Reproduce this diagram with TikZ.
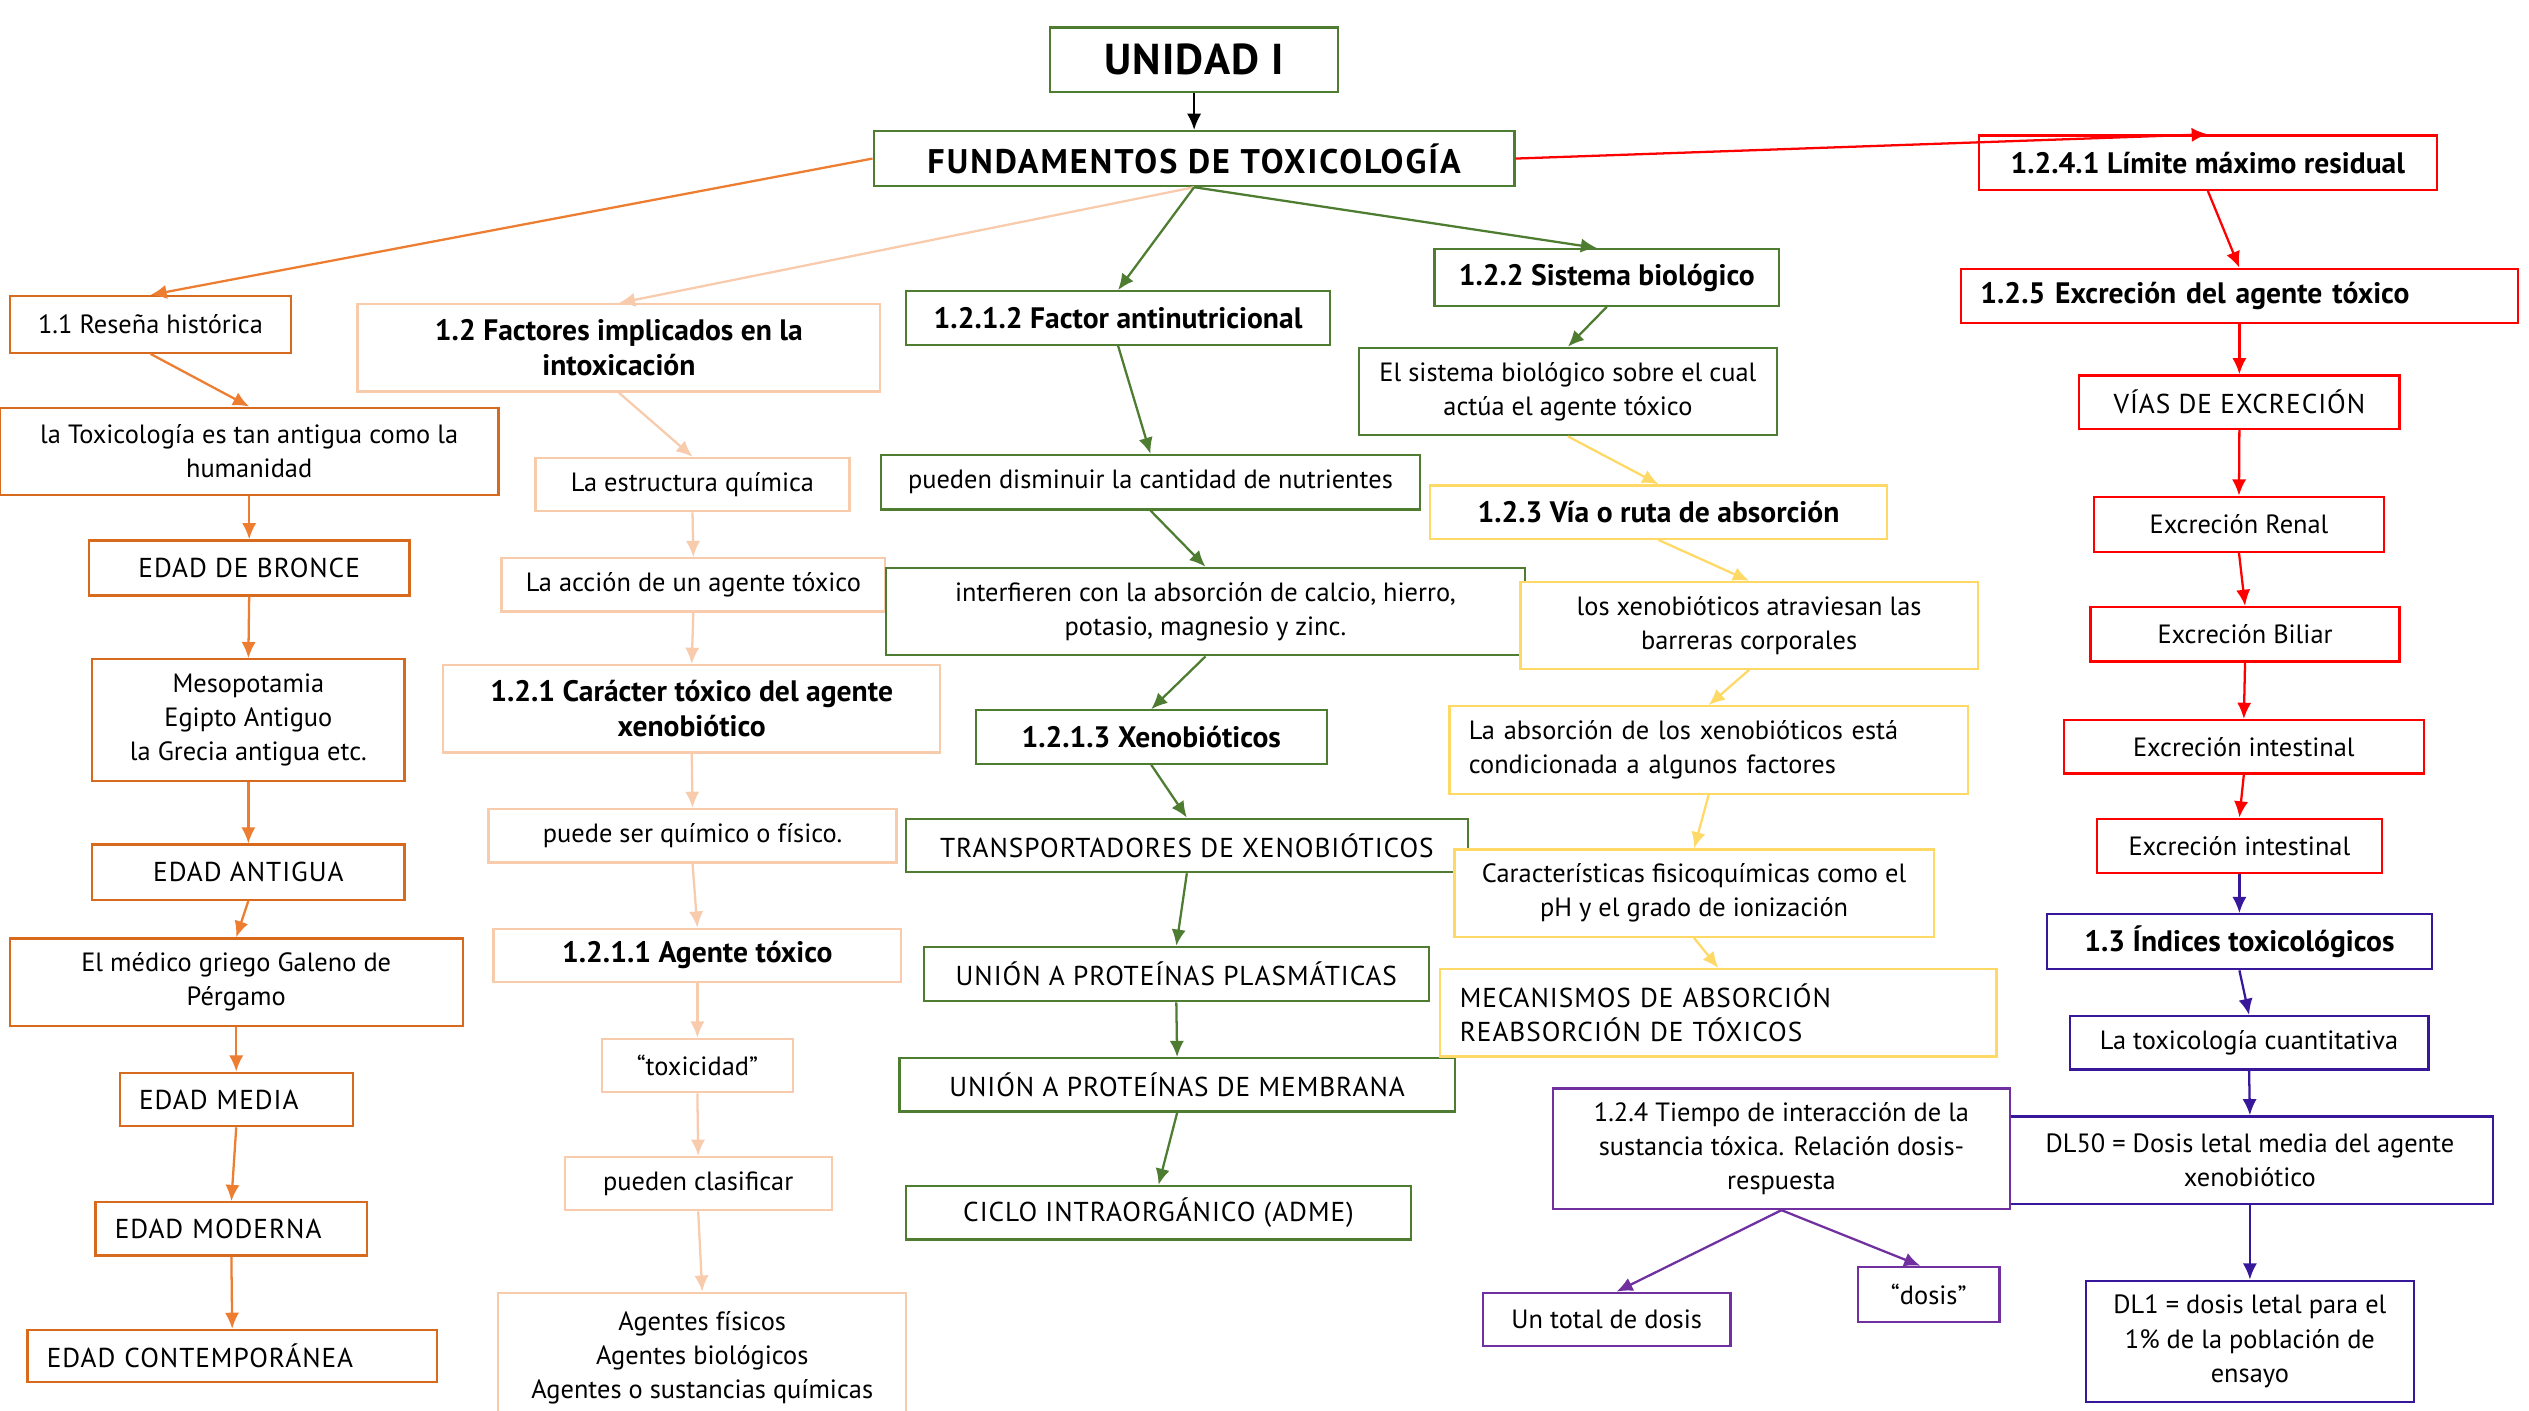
\documentclass[tikz,border=0pt]{standalone}
\usepackage{fontspec}
\setmainfont{PT Sans}
\usepackage{xcolor}
\usepackage{tikz}
\usetikzlibrary{arrows.meta}

\definecolor{naranja}{HTML}{ED7D31}
\definecolor{naranjaosc}{HTML}{D86A1E}
\definecolor{durazno}{HTML}{F8CBAD}
\definecolor{verde}{HTML}{4E7D32}
\definecolor{amarillo}{HTML}{FFD966}
\definecolor{rojo}{HTML}{FF0000}
\definecolor{indigo}{HTML}{38189A}
\definecolor{violeta}{HTML}{7030A0}

\newcommand{\txt}{\fontsize{11.6}{15}\selectfont}
\newcommand{\txtn}{\fontsize{13}{15.5}\selectfont\bfseries}
\newcommand{\mayus}{\fontsize{12}{15}\selectfont\addfontfeatures{LetterSpace=3.5}}

\tikzset{
  caja/.style={draw, line width=1pt, align=center, inner sep=2pt, font=\txt, fill=white},
  wh/.style 2 args={minimum width=#1cm, minimum height=#2cm},
  izq/.style={align=left, inner xsep=0.3cm, text width=#1cm},
  negrita/.style={font=\txtn},
  caps/.style={font=\mayus},
  obox/.style={caja, draw=naranjaosc},
  pbox/.style={caja, draw=durazno},
  gbox/.style={caja, draw=verde},
  ybox/.style={caja, draw=amarillo},
  rbox/.style={caja, draw=rojo},
  ibox/.style={caja, draw=indigo},
  vbox/.style={caja, draw=violeta},
  flecha/.style={-{Latex[length=0.25cm, width=0.22cm]}, line width=1pt}
}

\begin{document}
\begin{tikzpicture}[x=0.025cm, y=-0.025cm]
\useasboundingbox (0,0) rectangle (1563,872);

% titulo
\node[gbox, wh={4.45}{1.0}, font=\fontsize{19}{22}\selectfont\bfseries\addfontfeatures{LetterSpace=3}] (unidad) at (738,37) {UNIDAD I};
\node[gbox, wh={9.9}{0.85}, font=\fontsize{15}{17}\selectfont\bfseries\addfontfeatures{LetterSpace=6}] (fund) at (738,98) {FUNDAMENTOS DE TOXICOLOGÍA};

% rama naranja
\node[obox, wh={4.35}{0.875}] (resena) at (93,200.5) {1.1 Reseña histórica};
\node[obox, wh={7.7}{1.35}] (antigua) at (154,279) {la Toxicología es tan antigua como la\\humanidad};
\node[obox, caps, wh={4.95}{0.85}] (bronce) at (154,351) {EDAD DE BRONCE};
\node[obox, wh={4.825}{1.875}] (meso) at (153.5,445) {Mesopotamia\\Egipto Antiguo\\la Grecia antigua etc.};
\node[obox, caps, wh={4.825}{0.85}] (edadant) at (153.5,539) {EDAD ANTIGUA};
\node[obox, wh={7.0}{1.35}] (galeno) at (146,607) {El médico griego Galeno de\\Pérgamo};
\node[obox, caps, minimum height=0.825cm, izq={3.0}] (media) at (146,679.5) {EDAD MEDIA};
\node[obox, caps, minimum height=0.825cm, izq={3.6}] (moderna) at (143,759.5) {EDAD MODERNA};
\node[obox, caps, minimum height=0.8cm, izq={5.725}] (contemp) at (143.5,838) {EDAD CONTEMPORÁNEA};

% rama durazno
\node[pbox, negrita, wh={8.075}{1.35}] (factores) at (382.5,215) {1.2 Factores implicados en la\\intoxicación};
\node[pbox, wh={4.85}{0.825}] (estructura) at (428,299.5) {La estructura química};
\node[pbox, wh={5.925}{0.825}] (accion) at (428.5,361.5) {La acción de un agente tóxico};
\node[pbox, negrita, wh={7.675}{1.35}] (caracter) at (427.5,438) {1.2.1 Carácter tóxico del agente\\xenobiótico};
\node[pbox, wh={6.3}{0.825}] (puede) at (428,516.5) {puede ser químico o físico.};
\node[pbox, negrita, wh={6.3}{0.825}] (agente) at (431,590.5) {1.2.1.1 Agente tóxico};
\node[pbox, wh={2.95}{0.825}] (toxicidad) at (431,658.5) {“toxicidad”};
\node[pbox, wh={4.125}{0.825}] (clasificar) at (431.5,731.5) {pueden clasificar};
\node[pbox, wh={6.3}{2.0}] (agentes) at (434,839) {Agentes físicos\\Agentes biológicos\\Agentes o sustancias químicas};

% rama verde
\node[gbox, negrita, wh={6.55}{0.825}] (antinut) at (691,196.5) {1.2.1.2 Factor antinutricional};
\node[gbox, wh={8.325}{0.84}] (disminuir) at (711,298) {pueden disminuir la cantidad de nutrientes};
\node[gbox, wh={9.875}{1.35}] (interfieren) at (745,378) {interfieren con la absorción de calcio, hierro,\\potasio, magnesio y zinc.};
\node[gbox, negrita, wh={5.425}{0.825}] (xeno) at (711.5,455.5) {1.2.1.3 Xenobióticos};
\node[gbox, caps, wh={8.675}{0.825}] (transp) at (733.5,522.5) {TRANSPORTADORES DE XENOBIÓTICOS};
\node[gbox, caps, wh={7.8}{0.84}] (plasm) at (727,602) {UNIÓN A PROTEÍNAS PLASMÁTICAS};
\node[gbox, caps, wh={8.575}{0.825}] (membrana) at (727.5,670.5) {UNIÓN A PROTEÍNAS DE MEMBRANA};
\node[gbox, caps, wh={7.8}{0.825}] (ciclo) at (716,749.5) {CICLO INTRAORGÁNICO (ADME)};
\node[gbox, negrita, wh={5.325}{0.875}] (sistema) at (993,171.5) {1.2.2 Sistema biológico};
\node[gbox, wh={6.46}{1.35}] (sobre) at (969,242) {El sistema biológico sobre el cual\\actúa el agente tóxico};

% rama amarilla
\node[ybox, negrita, wh={7.06}{0.825}] (via) at (1025,316.5) {1.2.3 Vía o ruta de absorción};
\node[ybox, wh={7.06}{1.34}] (barreras) at (1081,386.5) {los xenobióticos atraviesan las\\barreras corporales};
\node[ybox, minimum height=1.35cm, izq={7.41}] (condic) at (1056,463.5) {La absorción de los xenobióticos está\\condicionada a algunos factores};
\node[ybox, wh={7.4}{1.35}] (fisico) at (1047,552) {Características fisicoquímicas como el\\pH y el grado de ionización};
\node[ybox, caps, minimum height=1.35cm, izq={7.99}] (mecan) at (1062,626) {MECANISMOS DE ABSORCIÓN\\REABSORCIÓN DE TÓXICOS};

% rama roja
\node[rbox, negrita, wh={7.075}{0.84}] (limite) at (1364.5,100.5) {1.2.4.1 Límite máximo residual};
\node[rbox, negrita, minimum height=0.84cm, izq={8.0}] (excrecion) at (1384,183) {1.2.5 Excreción del agente tóxico};
\node[rbox, caps, wh={4.95}{0.825}] (vias) at (1384,248.5) {VÍAS DE EXCRECIÓN};
\node[rbox, wh={4.49}{0.85}] (renal) at (1383.75,324) {Excreción Renal};
\node[rbox, wh={4.775}{0.84}] (biliar) at (1387.5,392) {Excreción Biliar};
\node[rbox, wh={5.56}{0.825}] (intesta) at (1386.75,461.5) {Excreción intestinal};
\node[rbox, wh={4.4}{0.84}] (intestb) at (1384,522.75) {Excreción intestinal};

% rama indigo
\node[ibox, negrita, wh={5.95}{0.85}] (indices) at (1384,582) {1.3 Índices toxicológicos};
\node[ibox, wh={5.54}{0.825}] (cuanti) at (1390,644.5) {La toxicología cuantitativa};
\node[ibox, wh={7.5}{1.35}] (dlcin) at (1390.5,717) {DL50 = Dosis letal media del agente\\xenobiótico};
\node[ibox, wh={5.075}{1.875}] (dluno) at (1390.5,829) {DL1 = dosis letal para el\\1\% de la población de\\ensayo};

% rama violeta
\node[vbox, wh={7.06}{1.86}] (tiempo) at (1101,710) {1.2.4 Tiempo de interacción de la\\sustancia tóxica. Relación dosis-\\respuesta};
\node[vbox, wh={3.825}{0.825}] (total) at (993,815.5) {Un total de dosis};
\node[vbox, wh={2.19}{0.85}] (dosis) at (1192,800) {“dosis”};

% conectores
\draw[flecha, black] (unidad) -- (fund);
\draw[flecha, naranja] (fund.west) -- (resena.north);
\draw[flecha, durazno] (fund.south) -- (factores.north);
\draw[flecha, verde] (fund.south) -- (antinut.north);
\draw[flecha, verde] (fund.south) -- ([xshift=-0.15cm]sistema.north);
\draw[flecha, rojo] (fund.east) -- (limite.north);

\foreach \a/\b in {resena/antigua, antigua/bronce, bronce/meso, meso/edadant, edadant/galeno, galeno/media, media/moderna, moderna/contemp}
  \draw[flecha, naranja] (\a.south) -- (\b.north);

\foreach \a/\b in {factores/estructura, estructura/accion, accion/caracter, caracter/puede, puede/agente, agente/toxicidad, toxicidad/clasificar, clasificar/agentes}
  \draw[flecha, durazno] (\a.south) -- (\b.north);

\foreach \a/\b in {antinut/disminuir, disminuir/interfieren, interfieren/xeno, xeno/transp, transp/plasm, plasm/membrana, membrana/ciclo, sistema/sobre}
  \draw[flecha, verde] (\a.south) -- (\b.north);

\foreach \a/\b in {sobre/via, via/barreras, barreras/condic, condic/fisico, fisico/mecan}
  \draw[flecha, amarillo] (\a.south) -- (\b.north);

\foreach \a/\b in {limite/excrecion, excrecion/vias, vias/renal, renal/biliar, biliar/intesta, intesta/intestb}
  \draw[flecha, rojo] (\a.south) -- (\b.north);

\foreach \a/\b in {intestb/indices, indices/cuanti, cuanti/dlcin, dlcin/dluno}
  \draw[flecha, indigo] (\a.south) -- (\b.north);

\draw[flecha, violeta] (tiempo.south) -- ([xshift=0.15cm]total.north);
\draw[flecha, violeta] (tiempo.south) -- ([xshift=-0.13cm]dosis.north);

\end{tikzpicture}
\end{document}
